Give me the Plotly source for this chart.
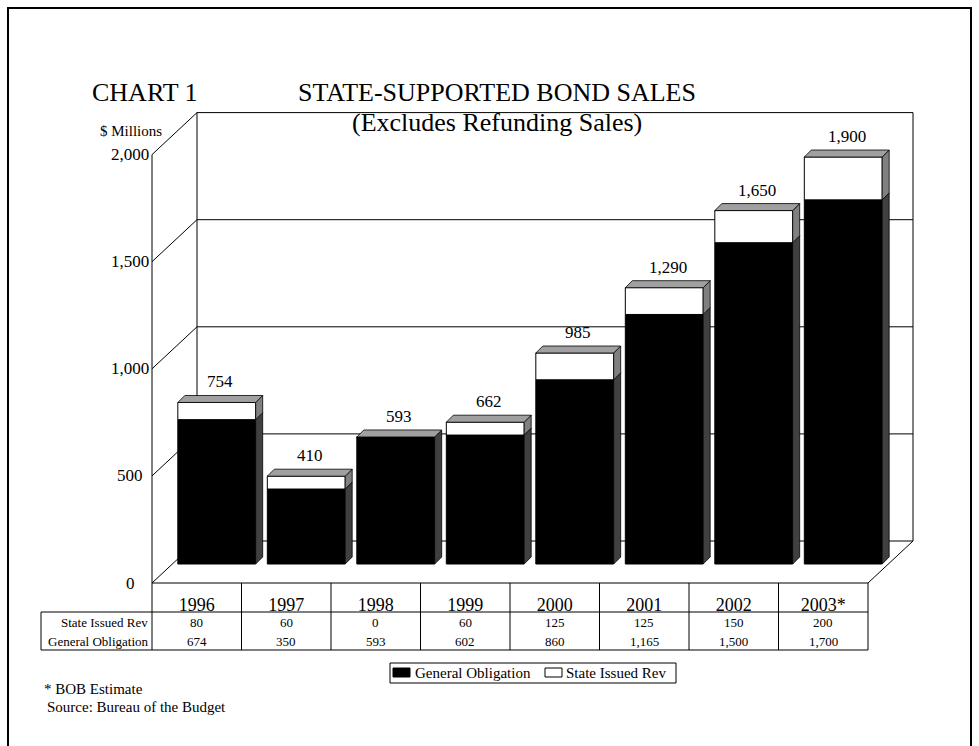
import plotly.graph_objects as go

# ---- data -------------------------------------------------------------
years = ["1996", "1997", "1998", "1999", "2000", "2001", "2002", "2003*"]
state_issued_rev = [80, 60, 0, 60, 125, 125, 150, 200]
general_obligation = [674, 350, 593, 602, 860, 1165, 1500, 1700]
y_ticks = [0, 500, 1000, 1500, 2000]

totals = [g + s for g, s in zip(general_obligation, state_issued_rev)]
n = len(years)

# ---- page geometry ------------------------------------------------------
FIG_W, FIG_H = 979, 746
COL_PX = 89.5          # pixels per category column
LEFT_PX = 152          # pixel x of the front-left axis
BASE_PX = 583          # pixel y of the front floor (value 0)
UNIT_PX = 0.2142       # pixels per $ million


def dx(px):
    return px / COL_PX


def dy(px):
    return px / UNIT_PX


def pfx(px):
    return px / FIG_W


def pfy(px):
    return 1 - px / FIG_H


x_range = [-LEFT_PX / COL_PX, (FIG_W - LEFT_PX) / COL_PX]
y_range = [-(FIG_H - BASE_PX) / UNIT_PX, BASE_PX / UNIT_PX]

# perspective offsets
BACK_X, BACK_Y = dx(45), dy(42)      # back wall
BAR_X, BAR_Y = dx(20), dy(19)        # front face of bars
DEP_X, DEP_Y = dx(7), dy(7)          # bar depth
BAR_W = 0.87
YMAX = y_ticks[-1]

FONT = "Liberation Serif, Times New Roman, serif"

fig = go.Figure()

bar_x = [i + 0.5 + BAR_X for i in range(n)]

fig.add_trace(go.Bar(
    x=bar_x, y=general_obligation, base=[BAR_Y] * n, width=BAR_W,
    name="General Obligation",
    marker=dict(color="black", line=dict(color="black", width=1)),
    hoverinfo="skip", showlegend=False,
))
fig.add_trace(go.Bar(
    x=bar_x, y=state_issued_rev,
    base=[BAR_Y + g for g in general_obligation], width=BAR_W,
    name="State Issued Rev",
    marker=dict(color="white", line=dict(color="black", width=1)),
    hoverinfo="skip", showlegend=False,
))


# side and top faces of the bars
def side_faces(bottoms, tops):
    xs, ys = [], []
    for i in range(n):
        xr = bar_x[i] + BAR_W / 2
        b, t = bottoms[i], tops[i]
        if t <= b:
            continue
        xs += [xr, xr + DEP_X, xr + DEP_X, xr, xr, None]
        ys += [b, b + DEP_Y, t + DEP_Y, t, b, None]
    return xs, ys


go_bottom = [BAR_Y] * n
go_top = [BAR_Y + g for g in general_obligation]
tot_top = [BAR_Y + t for t in totals]

for bottoms, tops, col in [(go_bottom, go_top, "#404040"),
                           (go_top, tot_top, "#808080")]:
    sx, sy = side_faces(bottoms, tops)
    fig.add_trace(go.Scatter(
        x=sx, y=sy, mode="lines", fill="toself", fillcolor=col,
        line=dict(color="black", width=0.8), showlegend=False,
        hoverinfo="skip",
    ))

tx, ty = [], []
for i in range(n):
    xl = bar_x[i] - BAR_W / 2
    xr = bar_x[i] + BAR_W / 2
    t = tot_top[i]
    tx += [xl, xl + DEP_X, xr + DEP_X, xr, xl, None]
    ty += [t, t + DEP_Y, t + DEP_Y, t, t, None]
fig.add_trace(go.Scatter(
    x=tx, y=ty, mode="lines", fill="toself", fillcolor="#a0a0a0",
    line=dict(color="black", width=0.8), showlegend=False, hoverinfo="skip",
))

# value labels above each bar
for i in range(n):
    fig.add_annotation(
        x=bar_x[i] + DEP_X / 2, y=tot_top[i] + DEP_Y,
        text=f"{totals[i]:,}", showarrow=False, yanchor="bottom", yshift=2,
        font=dict(family=FONT, size=17, color="black"),
    )

# value-axis labels on the front plane
for v in y_ticks:
    fig.add_annotation(x=-dx(22), y=v, text=f"{v:,}", showarrow=False,
                       xanchor="center", yanchor="middle",
                       font=dict(family=FONT, size=17, color="black"))

# ---- walls, floor and grid ---------------------------------------------
shapes = []


def line(x0, y0, x1, y1, width=1, layer="below", color="black"):
    shapes.append(dict(type="line", xref="x", yref="y", x0=x0, y0=y0,
                       x1=x1, y1=y1, layer=layer,
                       line=dict(color=color, width=width)))


# back wall
line(BACK_X, BACK_Y, BACK_X, YMAX + BACK_Y)
line(n + BACK_X, BACK_Y, n + BACK_X, YMAX + BACK_Y)
line(BACK_X, YMAX + BACK_Y, n + BACK_X, YMAX + BACK_Y)
for v in y_ticks[:-1]:
    line(BACK_X, v + BACK_Y, n + BACK_X, v + BACK_Y)
# left wall
line(0, 0, 0, YMAX)
for v in y_ticks:
    line(0, v, BACK_X, v + BACK_Y)
# floor
line(0, 0, n, 0)
line(n, 0, n + BACK_X, BACK_Y)

# ---- data table ---------------------------------------------------------
HEAD_B = -dy(29)
TAB_B = -dy(67)
LAB_L = -dx(111)
for i in range(n + 1):
    line(i, 0, i, TAB_B)
line(LAB_L, HEAD_B, n, HEAD_B)
line(LAB_L, TAB_B, n, TAB_B)
line(LAB_L, HEAD_B, LAB_L, TAB_B)

row_specs = [("State Issued Rev", state_issued_rev, -dy(39)),
             ("General Obligation", general_obligation, -dy(58))]
for label, vals, yy in row_specs:
    fig.add_annotation(x=-dx(2), y=yy, text=label, showarrow=False,
                       xanchor="right", yanchor="middle",
                       font=dict(family=FONT, size=13, color="black"))
    for i, v in enumerate(vals):
        fig.add_annotation(x=i + 0.5, y=yy, text=f"{v:,}", showarrow=False,
                           xanchor="center", yanchor="middle",
                           font=dict(family=FONT, size=13, color="black"))

# ---- legend -------------------------------------------------------------
shapes.append(dict(type="rect", xref="paper", yref="paper",
                   x0=pfx(390), y0=pfy(683), x1=pfx(676), y1=pfy(663),
                   line=dict(color="black", width=1), fillcolor="white"))
legend_items = [("General Obligation", "black", 393, 413),
                ("State Issued Rev", "white", 545, 564)]
for name, col, sx0, tx0 in legend_items:
    shapes.append(dict(type="rect", xref="paper", yref="paper",
                       x0=pfx(sx0), y0=pfy(677), x1=pfx(sx0 + 17), y1=pfy(668),
                       line=dict(color="black", width=1), fillcolor=col))
    fig.add_annotation(xref="paper", yref="paper", x=pfx(tx0), y=pfy(673),
                       text=name, showarrow=False, xanchor="left",
                       yanchor="middle",
                       font=dict(family=FONT, size=15, color="black"))

# ---- page frame ---------------------------------------------------------
shapes.append(dict(type="rect", xref="paper", yref="paper",
                   x0=pfx(8), y0=pfy(760), x1=pfx(971), y1=pfy(8),
                   line=dict(color="black", width=2), layer="below"))

# ---- titles and notes ---------------------------------------------------
texts = [
    ("CHART 1", 90, 93, "left", 26),
    ("STATE-SUPPORTED BOND SALES", 497, 93, "center", 26),
    ("(Excludes Refunding Sales)", 497, 122, "center", 26),
    ("$ Millions", 164, 131, "right", 15),
    ("* BOB Estimate", 42, 689, "left", 15),
    ("Source: Bureau of the Budget", 45, 707, "left", 15),
]
for t, x, y, anchor, size in texts:
    fig.add_annotation(xref="paper", yref="paper", x=pfx(x), y=pfy(y),
                       text=t, showarrow=False, xanchor=anchor,
                       yanchor="middle",
                       font=dict(family=FONT, size=size, color="black"))

fig.update_layout(
    width=FIG_W, height=FIG_H,
    margin=dict(l=0, r=0, t=0, b=0),
    paper_bgcolor="white", plot_bgcolor="white",
    barmode="overlay",
    shapes=shapes,
    showlegend=False,
    xaxis=dict(range=x_range, anchor="free", position=(FIG_H - BASE_PX) / FIG_H,
               tickvals=[i + 0.5 for i in range(n)], ticktext=years,
               showgrid=False, zeroline=False, showline=False, ticks="",
               ticklabelstandoff=9,
               tickfont=dict(family=FONT, size=18, color="black")),
    yaxis=dict(range=y_range, showticklabels=False,
               showgrid=False, zeroline=False, showline=False, ticks=""),
)

fig.write_html("out.html")
